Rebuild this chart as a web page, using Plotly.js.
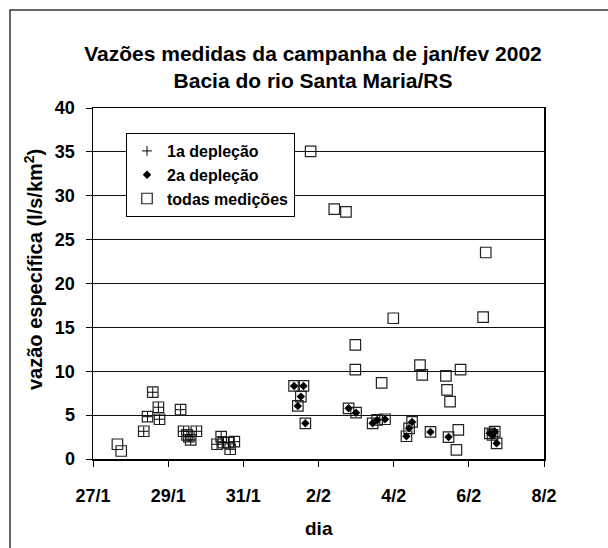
<!DOCTYPE html>
<html>
<head>
<meta charset="utf-8">
<script src="https://cdn.plot.ly/plotly-3.0.1.min.js"></script>
<style>html,body{margin:0;padding:0;background:#fff;}</style>
</head>
<body>
<div id="chart" style="width:608px;height:548px;"></div>
<script>
// x = day counted from 1 January 2002 (Feb d = 31 + d)
var xTickVals = [27, 29, 31, 33, 35, 37, 39];
var xTickText = ['27/1', '29/1', '31/1', '2/2', '4/2', '6/2', '8/2'];
var yTickVals = [0, 5, 10, 15, 20, 25, 30, 35, 40];

// 1a depleção (plus markers)
var dep1X = [28.35, 28.45, 28.59, 28.74, 28.77, 29.33, 29.41, 29.50, 29.55, 29.60, 29.75,
             30.30, 30.41, 30.47, 30.60, 30.65, 30.76];
var dep1Y = [3.16, 4.82, 7.61, 5.90, 4.53, 5.62, 3.16, 2.74, 2.54, 2.17, 3.16,
             1.68, 2.54, 1.86, 1.86, 1.11, 1.97];

// 2a depleção (diamond markers)
var dep2X = [32.35, 32.45, 32.53, 32.60, 32.65, 33.80, 34.00, 34.44, 34.56, 34.77,
             35.34, 35.41, 35.49, 35.98, 36.46, 37.56, 37.63, 37.69, 37.74];
var dep2Y = [8.33, 6.05, 7.11, 8.33, 4.07, 5.78, 5.28, 4.07, 4.45, 4.53,
             2.59, 3.50, 4.22, 3.08, 2.50, 2.93, 2.74, 3.11, 1.79];

// other measurements (only in "todas medições")
var otherX = [27.65, 27.75, 32.79, 33.42, 33.73, 33.98, 33.98, 34.68, 34.99, 35.70, 35.76,
              36.39, 36.42, 36.50, 36.67, 36.72, 36.78, 37.38, 37.45];
var otherY = [1.68, 0.91, 35.05, 28.48, 28.17, 13.0, 10.19, 8.67, 16.04, 10.69, 9.58,
              9.47, 7.87, 6.54, 1.03, 3.31, 10.19, 16.16, 23.53];

var allX = otherX.concat(dep1X, dep2X);
var allY = otherY.concat(dep1Y, dep2Y);

var FONT = 'Liberation Sans, Arial, sans-serif';
function b(s) { return '<b>' + s + '</b>'; }

var traces = [
  {x: allX, y: allY, type: 'scatter', mode: 'markers', name: b('todas medições'), legendrank: 3,
   marker: {symbol: 'square-open', size: 10.5, color: '#222', line: {width: 1.2, color: '#222'}}},
  {x: dep1X, y: dep1Y, type: 'scatter', mode: 'markers', name: b('1a depleção'), legendrank: 1,
   marker: {symbol: 'cross-thin-open', size: 7, color: '#000', line: {width: 1, color: '#000'}}},
  {x: dep2X, y: dep2Y, type: 'scatter', mode: 'markers', name: b('2a depleção'), legendrank: 2,
   marker: {symbol: 'diamond', size: 6.5, color: '#000', line: {width: 0}}}
];

var layout = {
  width: 608, height: 548,
  margin: {l: 93, r: 64, t: 108, b: 89},
  paper_bgcolor: '#fff', plot_bgcolor: '#fff',
  font: {family: FONT, color: '#000'},
  title: {
    text: b('Vazões medidas da campanha de jan/fev 2002') + '<br>' + b('Bacia do rio Santa Maria/RS'),
    font: {family: FONT, size: 21, color: '#000'},
    xref: 'container', x: 313 / 608, xanchor: 'center',
    yref: 'container', y: 1 - 60.5 / 548, yanchor: 'middle'
  },
  xaxis: {
    range: [27, 39], tickvals: xTickVals, ticktext: xTickText.map(b),
    showgrid: false, zeroline: false,
    showline: true, linecolor: '#000', linewidth: 1.5, mirror: true,
    ticks: 'outside', ticklen: 6, tickcolor: '#000', tickwidth: 1,
    ticklabelstandoff: 14,
    tickfont: {family: FONT, size: 18, color: '#000'}
  },
  yaxis: {
    range: [0, 40], tickvals: yTickVals, ticktext: yTickVals.map(function (v) { return b(String(v)); }),
    showgrid: true, gridcolor: '#111', gridwidth: 1, zeroline: false,
    showline: true, linecolor: '#000', linewidth: 1.5, mirror: true,
    ticks: 'outside', ticklen: 6, tickcolor: '#000', tickwidth: 1,
    ticklabelstandoff: 7,
    tickfont: {family: FONT, size: 18, color: '#000'}
  },
  legend: {
    x: (126 - 93) / 451, y: 1 - (133 - 108) / 351, xanchor: 'left', yanchor: 'top',
    bgcolor: '#fff', bordercolor: '#000', borderwidth: 1,
    font: {family: FONT, size: 16, color: '#000'},
    itemwidth: 30, traceorder: 'normal'
  },
  showlegend: true,
  annotations: [
    {text: b('vazão específica (l/s/km<sup>2</sup>)'), textangle: -90, showarrow: false,
     xref: 'paper', yref: 'paper', x: (33 - 93) / 451, y: (459 - 270) / 351,
     xanchor: 'center', yanchor: 'middle',
     font: {family: FONT, size: 20, color: '#000'}},
    {text: b('dia'), showarrow: false,
     xref: 'paper', yref: 'paper', x: (319 - 93) / 451, y: (459 - 528) / 351,
     xanchor: 'center', yanchor: 'middle',
     font: {family: FONT, size: 19, color: '#000'}}
  ],
  shapes: [
    {type: 'rect', xref: 'paper', yref: 'paper',
     x0: (10 - 93) / 451, x1: 1.5, y0: -0.5, y1: 1 + (108 - 10) / 351,
     line: {color: '#333', width: 1.5}, fillcolor: 'rgba(0,0,0,0)', layer: 'below'}
  ]
};

Plotly.newPlot('chart', traces, layout, {displayModeBar: false, staticPlot: true});
</script>
</body>
</html>
